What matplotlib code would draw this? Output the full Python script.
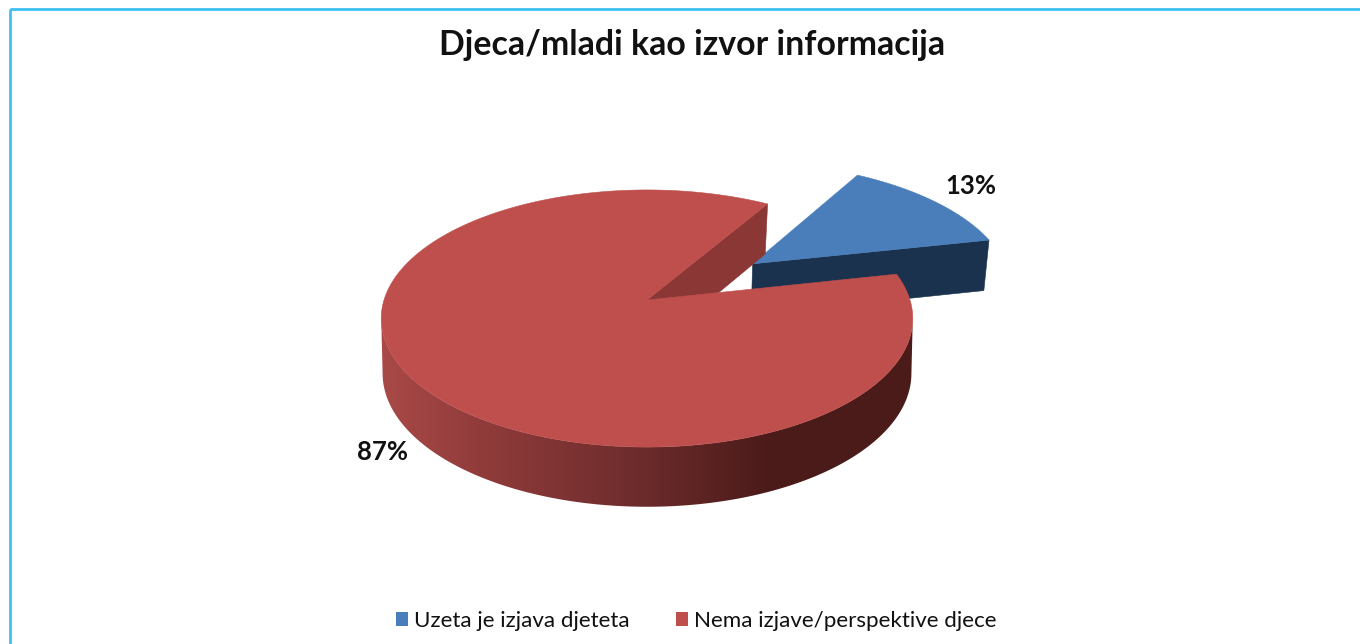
import numpy as np
import matplotlib
matplotlib.use("Agg")
import matplotlib.pyplot as plt
from matplotlib.colors import LinearSegmentedColormap
from matplotlib.patches import Patch, Polygon, Rectangle

TITLE = "Djeca/mladi kao izvor informacija"
categories = ["Uzeta je izjava djeteta", "Nema izjave/perspektive djece"]
shares = [13, 87]

BLUE = "#4a7ebb"
RED = "#be4f4c"
NAVY = "#1b324e"
NOTCH = "#8a3735"
FIRST_EDGE_DEG = 59.0
EXPLODE = 0.515

# perspective of the pie's top and bottom discs, in figure pixels
TOP = dict(x0=647, y0=300, a=263, b=125.9, k=0.144)
BOTTOM = dict(x0=647, y0=352, a=261, b=130, k=0.16)


def project(u, v, plane):
    w = 1 + plane["k"] * v
    return plane["x0"] + plane["a"] * u / w, plane["y0"] - plane["b"] * v / w


def rim(deg_from, deg_to, plane, shift=(0.0, 0.0)):
    t = np.radians(np.linspace(deg_from, deg_to, 200))
    x, y = project(np.cos(t) + shift[0], np.sin(t) + shift[1], plane)
    return np.column_stack([x, y])


def silhouette_deg(plane):
    # angles where the projected disc reaches its left/right extreme
    s = np.degrees(np.arcsin(plane["k"]))
    return 180 + s, 360 - s


blue_sweep = shares[0] / sum(shares) * 360
blue_from = FIRST_EDGE_DEG - blue_sweep
blue_to = FIRST_EDGE_DEG
mid = np.radians((blue_from + blue_to) / 2)
shift = (EXPLODE * np.cos(mid), EXPLODE * np.sin(mid))

fig = plt.figure(figsize=(13.6, 6.44), dpi=100, facecolor="white")
ax = fig.add_axes([0, 0, 1, 1])
ax.set_xlim(0, 1360)
ax.set_ylim(644, 0)
ax.axis("off")
plt.rcParams["font.family"] = ["Lato", "DejaVu Sans"]

ax.add_patch(Rectangle((10, 9), 1400, 700, fill=False, edgecolor="#3dc1f2", linewidth=2.0))

# exploded blue slice: cut wall, then top
blue_apex_top = np.array(project(shift[0], shift[1], TOP))
blue_apex_bot = np.array(project(shift[0], shift[1], BOTTOM))
blue_top_rim = rim(blue_from, blue_to, TOP, shift)
blue_bot_rim = rim(blue_from, blue_to, BOTTOM, shift)
ax.add_patch(Polygon([blue_apex_top, blue_top_rim[0], blue_bot_rim[0], blue_apex_bot],
                     facecolor=NAVY, edgecolor=NAVY, linewidth=0.4))
ax.add_patch(Polygon(np.vstack([blue_apex_top, blue_top_rim]), facecolor=BLUE, edgecolor=BLUE, linewidth=0.4))

# red slice: inner cut wall at the back of the notch
red_apex_top = np.array(project(0, 0, TOP))
red_apex_bot = np.array(project(0, 0, BOTTOM))
far_top = rim(blue_to, blue_to, TOP)[0]
far_bot = rim(blue_to, blue_to, BOTTOM)[0]
ax.add_patch(Polygon([red_apex_top, far_top, far_bot, red_apex_bot],
                     facecolor=NOTCH, edgecolor=NOTCH, linewidth=0.4))

# red outer wall with its horizontal shading
left_top, right_top = silhouette_deg(TOP)
left_bot, right_bot = silhouette_deg(BOTTOM)
wall = Polygon(np.vstack([rim(left_top, right_top, TOP), rim(right_bot, left_bot, BOTTOM)]),
               facecolor="none", edgecolor="none")
ax.add_patch(wall)
shade = LinearSegmentedColormap.from_list(
    "wall", [(0.0, "#aa4a48"), (0.22, "#8d3a39"), (0.48, "#6f2c2d"), (0.72, "#4c1c1a"), (1.0, "#4a1b18")]
)
im = ax.imshow(np.linspace(0, 1, 256)[None, :], cmap=shade, extent=(375, 915, 520, 300),
               aspect="auto", zorder=1)
im.set_clip_path(wall)
ax.set_xlim(0, 1360)
ax.set_ylim(644, 0)

# red top face
ax.add_patch(Polygon(np.vstack([red_apex_top, rim(blue_to, blue_from + 360, TOP)]),
                     facecolor=RED, edgecolor=RED, linewidth=0.4, zorder=2))

ax.text(692, 45, TITLE, ha="center", va="center", fontsize=24.4, fontweight="bold", color="#111111")
ax.text(971, 186, f"{shares[0]}%", ha="center", va="center", fontsize=18.5, fontweight="bold", color="#111111", zorder=3)
ax.text(382, 452, f"{shares[1]}%", ha="center", va="center", fontsize=18.5, fontweight="bold", color="#111111", zorder=3)

handles = [Patch(facecolor=BLUE, label=categories[0]), Patch(facecolor=RED, label=categories[1])]
ax.legend(handles=handles, loc="center", bbox_to_anchor=(696 / 1360, 1 - 621 / 644), ncol=2, frameon=False,
          fontsize=16.15, handlelength=0.54, handleheight=0.54, handletextpad=0.27, columnspacing=2.05,
          labelcolor="#111111")

fig.savefig("out.png", dpi=100)
plt.close(fig)
